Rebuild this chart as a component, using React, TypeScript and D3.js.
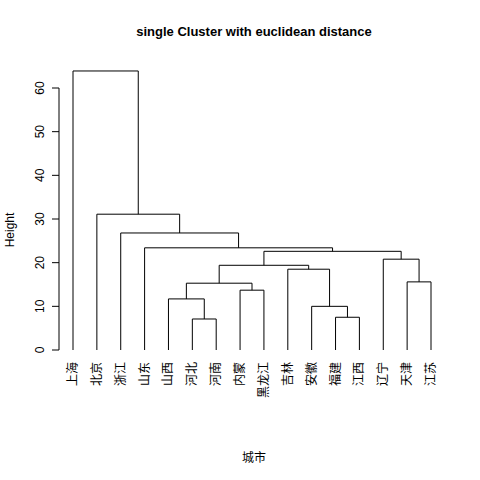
import React from "react";
import * as d3 from "d3";

const leaves = ["上海", "北京", "浙江", "山东", "山西", "河北", "河南", "内蒙", "黑龙江", "吉林", "安徽", "福建", "江西", "辽宁", "天津", "江苏"];
// merges: [left, right, height]; negative = leaf index (1-based), positive = earlier merge (1-based)
const merges: [number, number, number][] = [
  [-6, -7, 7.1],
  [-12, -13, 7.5],
  [-11, 2, 10.0],
  [-5, 1, 11.7],
  [-8, -9, 13.7],
  [4, 5, 15.3],
  [-15, -16, 15.6],
  [-10, 3, 18.5],
  [6, 8, 19.4],
  [-14, 7, 20.8],
  [9, 10, 22.6],
  [-4, 11, 23.4],
  [-3, 12, 26.8],
  [-2, 13, 31.1],
  [-1, 14, 63.9],
];
const yTicks = [0, 10, 20, 30, 40, 50, 60];

export default function App() {
  const x = d3.scalePoint<string>().domain(leaves).range([73, 431]);
  const y = d3.scaleLinear().domain([0, 60]).range([350, 88]);
  const pos: { x: number; h: number }[] = [];
  const get = (i: number) => (i < 0 ? { x: x(leaves[-i - 1])!, h: 0 } : pos[i - 1]);
  const paths: string[] = [];
  merges.forEach(([a, b, h]) => {
    const l = get(a), r = get(b);
    paths.push(`M${l.x},${y(l.h)}V${y(h)}H${r.x}V${y(r.h)}`);
    pos.push({ x: (l.x + r.x) / 2, h });
  });
  const font = "Liberation Sans, Arial, sans-serif";
  return (
    <svg width={480} height={480} style={{ position: "absolute", left: 0, top: 0, background: "#fff" }} fontFamily={font}>
      <text x={254} y={36} textAnchor="middle" fontWeight="bold" fontSize={13}>single Cluster with euclidean distance</text>
      {paths.map((d, i) => <path key={i} d={d} fill="none" stroke="#000" strokeWidth={1} />)}
      <line x1={59} x2={59} y1={y(0)} y2={y(60)} stroke="#000" />
      {yTicks.map(t => (
        <g key={t}>
          <line x1={52} x2={59} y1={y(t)} y2={y(t)} stroke="#000" />
          <text transform={`translate(44,${y(t)}) rotate(-90)`} textAnchor="middle" fontSize={12}>{t}</text>
        </g>
      ))}
      {leaves.map(l => (
        <text key={l} transform={`translate(${x(l)! + 4},362) rotate(-90)`} textAnchor="end" fontSize={12} fontFamily="Noto Sans CJK SC">{l}</text>
      ))}
      <text transform="translate(14,230) rotate(-90)" textAnchor="middle" fontSize={12}>Height</text>
      <text x={254} y={462} textAnchor="middle" fontSize={12} fontFamily="Noto Sans CJK SC">城市</text>
    </svg>
  );
}
